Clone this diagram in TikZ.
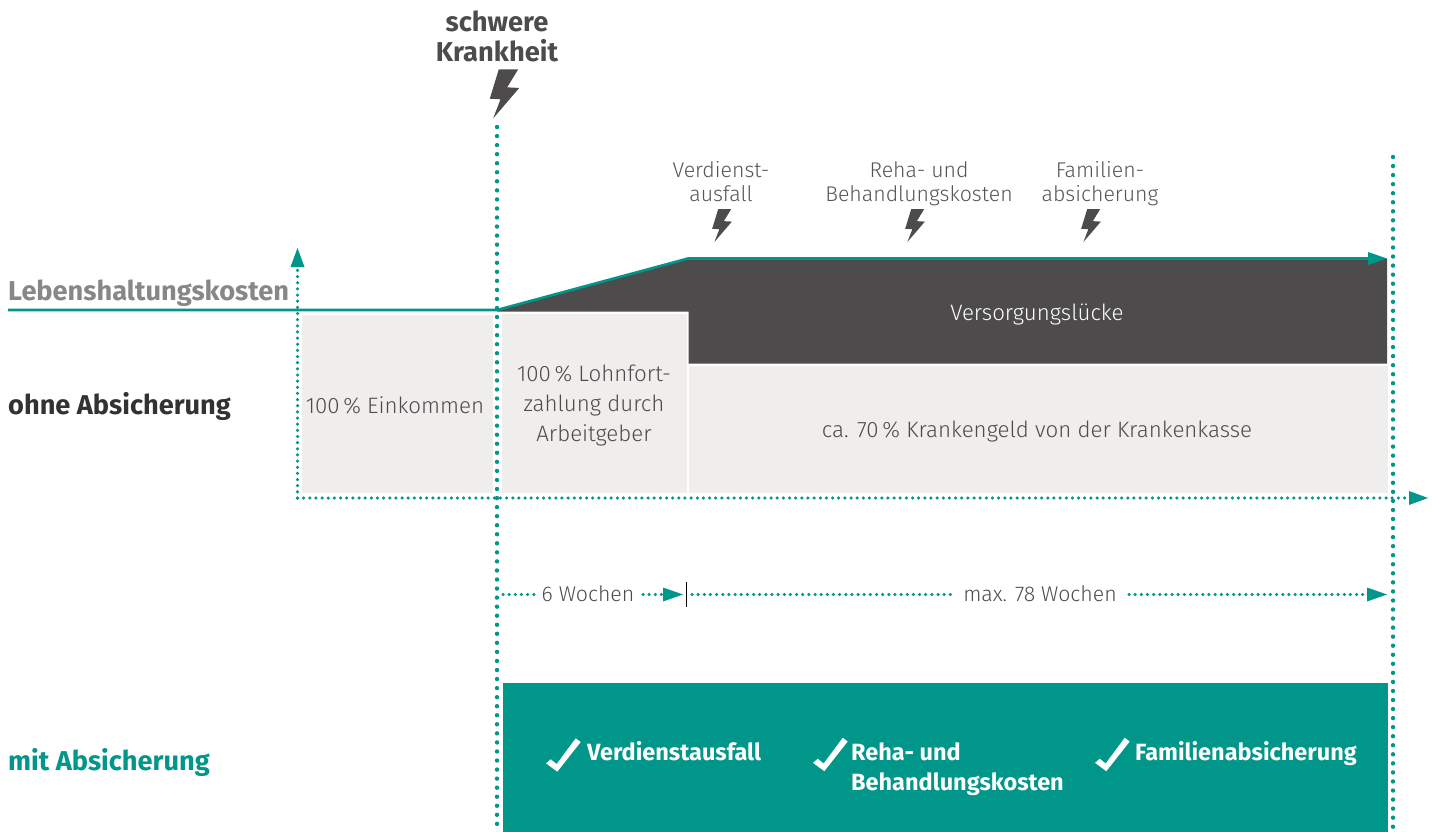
\documentclass[tikz,border=0pt]{standalone}
\usepackage{fontspec}
\setmainfont{Fira Sans}
\newfontfamily\lightf{Fira Sans Light}
\usetikzlibrary{arrows.meta}
\definecolor{teal1}{HTML}{00968A}
\definecolor{dark1}{HTML}{4D4B4C}
\definecolor{dark2}{HTML}{333132}
\definecolor{grey1}{HTML}{EFEEEC}
\definecolor{grey2}{HTML}{878787}
\definecolor{txt1}{HTML}{555555}
\tikzset{
  greybox/.style={fill=grey1,draw=none},
  bigdots/.style={teal1,line width=4.4pt,line cap=round,dash pattern=on 0pt off 9.05pt},
  smalldots/.style={teal1,line width=3.5pt,line cap=round,dash pattern=on 0pt off 6.15pt},
  headtxt/.style={font=\fontsize{27.3}{30}\selectfont\bfseries,align=center,inner sep=0pt},
  sidelabel/.style={font=\fontsize{27.2}{30}\selectfont\bfseries,anchor=base west,inner sep=0pt},
  thintxt/.style={font=\fontsize{21.3}{24}\selectfont\lightf,text=txt1,align=center,inner sep=0pt},
  bodytxt/.style={font=\fontsize{22.3}{30}\selectfont\lightf,text=dark1,align=center,inner sep=0pt},
  spantxt/.style={font=\fontsize{21.3}{30}\selectfont\lightf,text=dark1,align=center,inner sep=0pt},
  checktxt/.style={font=\fontsize{23.5}{30}\selectfont\bfseries,text=white,align=left,inner sep=0pt,anchor=base west},
  bolt/.pic={\fill[dark1] (-1.2,-24.5)--(18.2,-24.5)--(7.2,-6.5)--(19.2,-5.8)--(-6.8,24.5)--(0.5,5.5)--(-10.2,4.9)--cycle;},
  tick/.pic={\fill[white] (-11.5,-8.5)--(-6.8,-12.5)--(-0.8,-7.8)--(18.2,-33.5)--(23.2,-29.8)--(-0.2,-0.1)--cycle;}
}
\begin{document}
\begin{tikzpicture}[x=1pt,y=-1pt]
\useasboundingbox (0,0) rectangle (1432,832);
% coordinates
\coordinate (L0) at (8,310); \coordinate (L1) at (497,310); \coordinate (L2) at (688,258.5); \coordinate (L3) at (1387,258.5);
\coordinate (Va) at (497,127); \coordinate (Vb) at (497,832);
\coordinate (Ra) at (1393,157); \coordinate (Rb) at (1393,832);
\coordinate (O) at (297.5,498); \coordinate (Ax) at (1428,498); \coordinate (Ay) at (297.5,248);
\coordinate (W0) at (503,594.5); \coordinate (W1) at (537,594.5); \coordinate (W2) at (643,594.5); \coordinate (W3) at (683,594.5);
\coordinate (W4) at (692,594.5); \coordinate (W5) at (955,594.5); \coordinate (W6) at (1129,594.5); \coordinate (W7) at (1387,594.5);
\coordinate (T0) at (686.5,582); \coordinate (T1) at (686.5,607);
% boxes
\fill[greybox] (302,315) rectangle (493,492.5);
\fill[greybox] (502,313.5) rectangle (686.5,492.5);
\fill[greybox] (688.5,366) rectangle (1388,492.5);
\fill[dark1] (497,310)--(688,258.5)--(1387,258.5)--(1387,363.5)--(688.5,363.5)--(688.5,311.5)--(497,311.5)--cycle;
\fill[teal1] (503,683) rectangle (1388,832);
% lines
\draw[teal1,line width=2.6pt] (L0)--(L1)--(L2)--(1370,258.5);
\draw[bigdots] (Va)--(Vb);
\draw[bigdots] (Ra)--(Rb);
\draw[smalldots] (O)--(1409,498);
\draw[smalldots] (O)--(297.5,267);
\draw[smalldots] (W0)--(W1);
\draw[smalldots] (W2)--(664,594.5);
\draw[smalldots] (W4)--(W5);
\draw[smalldots] (W6)--(1368,594.5);
\fill[teal1] (1409,491)--(Ax)--(1409,505)--cycle;
\fill[teal1] (290.5,267)--(Ay)--(304.5,267)--cycle;
\fill[teal1] (663,587.5)--(W3)--(663,601.5)--cycle;
\fill[teal1] (1367,587.5)--(W7)--(1367,601.5)--cycle;
\fill[teal1] (1368,252)--(L3)--(1368,265)--cycle;
\draw[black,line width=0.9pt] (T0)--(T1);
% bolts
\pic at (500,93.8) {bolt};
\pic[scale=0.67] at (719,225.5) {bolt};
\pic[scale=0.67] at (912,225.5) {bolt};
\pic[scale=0.67] at (1088,225.5) {bolt};
% ticks
\pic at (557.5,771.8) {tick};
\pic at (824.5,771.3) {tick};
\pic at (1106.5,771.3) {tick};
% text
\node[headtxt,text=dark1,anchor=base] (krank) at (497,62) {schwere\\Krankheit};
\node[thintxt,anchor=base] (t1) at (721,201) {Verdienst-\\ausfall};
\node[thintxt,anchor=base] (t2) at (919,201) {Reha- und\\Behandlungskosten};
\node[thintxt,anchor=base] (t3) at (1100,201) {Familien-\\absicherung};
\node[sidelabel,text=grey2] (leb) at (8,300) {Lebenshaltungskosten};
\node[sidelabel,text=dark2] (ohne) at (8,414) {ohne Absicherung};
\node[sidelabel,text=teal1] (mit) at (8,770) {mit Absicherung};
\node[bodytxt,text=white] (vers) at (1037,314) {Versorgungslücke};
\node[bodytxt] (ein) at (395,405.5) {100\,\% Einkommen};
\node[bodytxt] (lohn) at (594,405) {100\,\% Lohnfort-\\zahlung durch\\Arbeitgeber};
\node[bodytxt] (kk) at (1037,431) {ca. 70\,\% Krankengeld von der Krankenkasse};
\node[spantxt] (w6) at (588,593.5) {6 Wochen};
\node[spantxt] (w78) at (1040,593.5) {max. 78 Wochen};
\node[checktxt] (c1) at (587,760) {Verdienstausfall};
\node[checktxt,anchor=base west] (c2) at (851,790) {Reha- und\\Behandlungskosten};
\node[checktxt] (c3) at (1135,760) {Familienabsicherung};
\end{tikzpicture}
\end{document}
